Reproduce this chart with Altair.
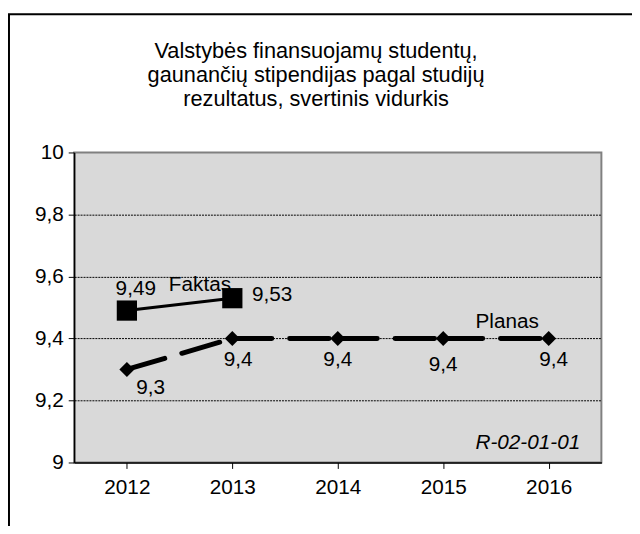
import altair as alt
import pandas as pd

years = ["2012", "2013", "2014", "2015", "2016"]
faktas_years = ["2012", "2013"]
faktas_values = [9.49, 9.53]
faktas_labels = ["9,49", "9,53"]
planas_values = [9.3, 9.4, 9.4, 9.4, 9.4]
planas_labels = ["9,3", "9,4", "9,4", "9,4", "9,4"]
y_ticks = [9, 9.2, 9.4, 9.6, 9.8, 10]
title_lines = [
    "Valstybės finansuojamų studentų,",
    "gaunančių stipendijas pagal studijų",
    "rezultatus, svertinis vidurkis",
]
series_names = ["Faktas", "Planas"]
code_text = "R-02-01-01"

FONT = "Liberation Sans"
FS = 21

faktas = pd.DataFrame({"year": faktas_years, "value": faktas_values, "label": faktas_labels})
planas = pd.DataFrame({"year": years, "value": planas_values, "label": planas_labels})

# per-segment rows for dashed line (restart dash at each point like the original)
seg_rows = []
for i in range(len(years) - 1):
    for j in (i, i + 1):
        seg_rows.append({"year": years[j], "value": planas_values[j], "seg": i, "o": j})
planas_seg = pd.DataFrame(seg_rows)

xs = alt.Scale(domain=years, paddingInner=0, paddingOuter=0)
ys = alt.Scale(domain=[9, 10], nice=False, zero=False)

X = alt.X("year:N", scale=xs, sort=years,
          axis=alt.Axis(title=None, labelAngle=0, bandPosition=0, grid=False,
                        domainColor="black", domainWidth=1.5, tickColor="black",
                        tickWidth=1, tickSize=6, labelFont=FONT, labelFontSize=FS,
                        labelColor="black", labelPadding=8))
Y = alt.Y("value:Q", scale=ys,
          axis=alt.Axis(title=None, values=y_ticks, grid=True, gridColor="black",
                        gridDash=[2, 1], gridWidth=1,
                        gridOpacity={"condition": {"test": "datum.value <= 9 || datum.value >= 10", "value": 0}, "value": 1},
                        domainColor="black", domainWidth=1.5, tickColor="black",
                        tickSize=6, labelFont=FONT, labelFontSize=FS, labelColor="black",
                        labelPadding=5,
                        labelExpr="replace(format(datum.value, '.2~f'), '.', ',')"))

one = pd.DataFrame({"a": [0]})
border = alt.Chart(one).mark_rect(
    fillOpacity=0, stroke="black", strokeWidth=2
).encode(x=alt.value(-66), x2=alt.value(800), y=alt.value(-140), y2=alt.value(800))

title_y = [-103, -78, -54]
title_layers = [
    alt.Chart(pd.DataFrame({"t": [line]})).mark_text(
        font=FONT, fontSize=22, color="black", align="center", baseline="middle"
    ).encode(x=alt.value(245), y=alt.value(yy), text="t:N")
    for line, yy in zip(title_lines, title_y)
]

planas_line = alt.Chart(planas_seg).mark_line(
    color="black", strokeWidth=5, strokeDash=[40, 18], strokeCap="round"
).encode(x=X, y=Y, detail="seg:N", order="o:Q")
planas_pts = alt.Chart(planas).mark_point(
    shape="diamond", filled=True, size=230, color="black", opacity=1
).encode(x=X, y=Y)

faktas_line = alt.Chart(faktas).mark_line(color="black", strokeWidth=3).encode(x=X, y=Y)
faktas_pts = alt.Chart(faktas).mark_point(
    shape="square", filled=True, size=420, color="black", opacity=1
).encode(x=X, y=Y)

def label_layer(df, idx, dx, dy, align="center"):
    return alt.Chart(df.iloc[[idx]]).mark_text(
        font=FONT, fontSize=FS, color="black", dx=dx, dy=dy, align=align, baseline="middle"
    ).encode(x=X, y=Y, text="label:N")

labels = [
    label_layer(faktas, 0, 9, -22),
    label_layer(faktas, 1, 20, -3, "left"),
    label_layer(planas, 0, 24, 19),
    label_layer(planas, 1, 6, 22),
    label_layer(planas, 2, 0, 22),
    label_layer(planas, 3, 0, 27),
    label_layer(planas, 4, 5, 22),
]

name_df = pd.DataFrame({"year": ["2012", "2016"], "value": [faktas_values[0], planas_values[-1]],
                        "label": series_names})
name_f = alt.Chart(name_df.iloc[[0]]).mark_text(
    font=FONT, fontSize=FS, color="black", dx=74, dy=-26, baseline="middle"
).encode(x=X, y=Y, text="label:N")
name_p = alt.Chart(name_df.iloc[[1]]).mark_text(
    font=FONT, fontSize=FS, color="black", dx=-42, dy=-17, baseline="middle"
).encode(x=X, y=Y, text="label:N")

code_df = pd.DataFrame({"year": [years[-1]], "value": [9.0], "label": [code_text]})
code = alt.Chart(code_df).mark_text(
    font=FONT, fontSize=FS, fontStyle="italic", color="black", dx=32, dy=-20,
    align="right", baseline="middle"
).encode(x=X, y=Y, text="label:N")

chart = alt.layer(
    border, *title_layers, planas_line, planas_pts, faktas_line, faktas_pts,
    *labels, name_f, name_p, code
).properties(
    width=534, height=314,
    autosize="none",
    padding={"left": 67, "top": 143, "right": 31, "bottom": 61},
).configure(
    background="white",
    view=alt.ViewConfig(fill="#d9d9d9", stroke="#808080", strokeWidth=2),
)

chart.save("out.html", embed_options={"renderer": "svg", "actions": False})
